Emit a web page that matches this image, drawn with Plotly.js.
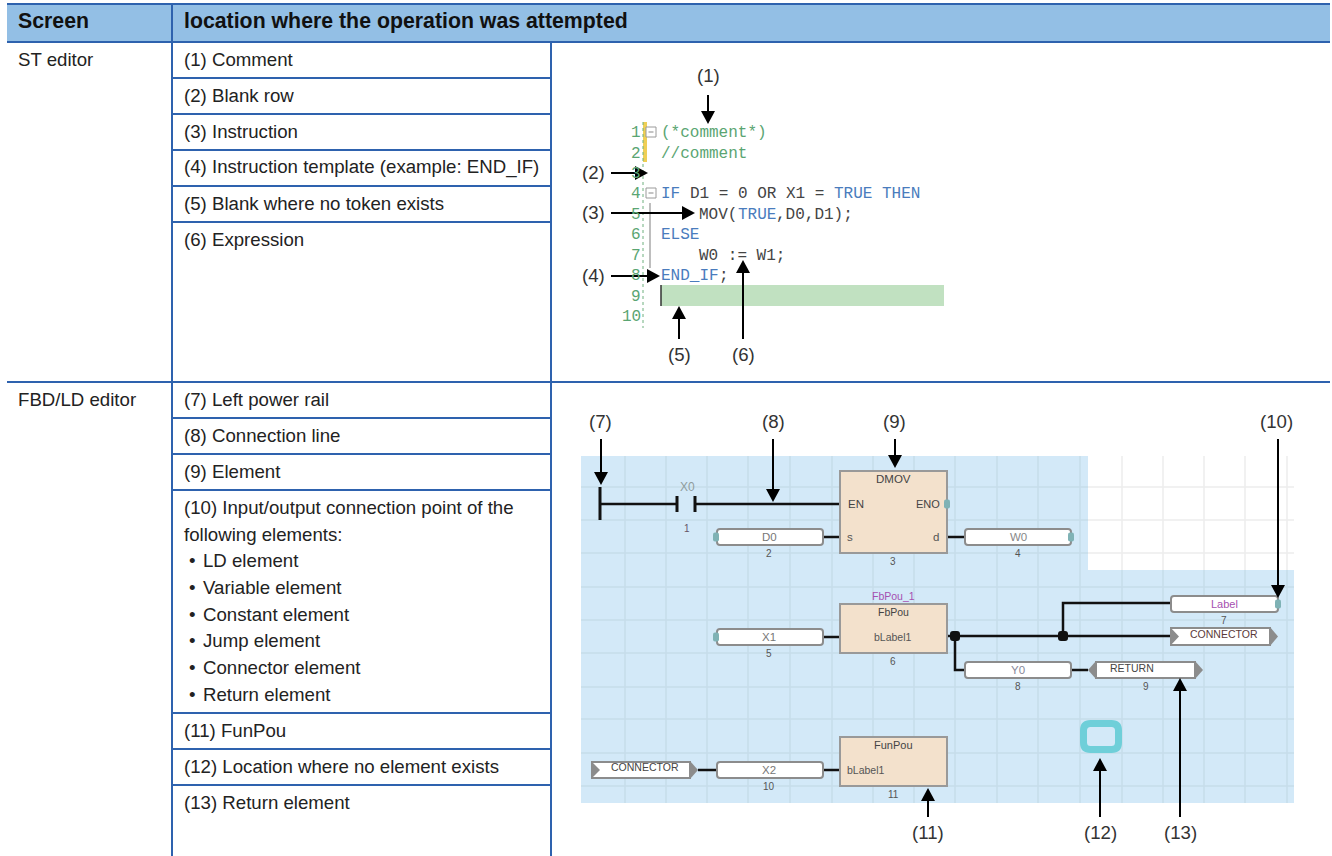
<!DOCTYPE html>
<html><head><meta charset="utf-8">
<script src="https://cdn.plot.ly/plotly-3.0.1.min.js"></script>
<style>html,body{margin:0;padding:0;background:#fff}#p{width:1332px;height:856px}</style>
</head><body><div id="p"></div>
<script>
// ---------- table content ----------
const headerLabels = [["Screen",18,22],["location where the operation was attempted",184,22]];
const screenLabels = [["ST editor",18,60],["FBD/LD editor",18,400]];
const rowLabels = [
 ["(1) Comment",60],["(2) Blank row",96],["(3) Instruction",132],
 ["(4) Instruction template (example: END_IF)",168],["(5) Blank where no token exists",204],["(6) Expression",240],
 ["(7) Left power rail",400],["(8) Connection line",436],["(9) Element",472],
 ["(10) Input/output connection point of the",508],["following elements:",535],
 ["(11) FunPou",731],["(12) Location where no element exists",767],["(13) Return element",803]];
const bulletLabels = [["LD element",561],["Variable element",588],["Constant element",615],["Jump element",641],["Connector element",668],["Return element",695]];
const tableHRules = [[7,1330,4],[7,1330,42],[172,551,78],[172,551,114],[172,551,150],[172,551,186],[172,551,222],
 [7,1330,382],[172,551,418],[172,551,454],[172,551,490],[172,551,713],[172,551,749],[172,551,785]];
const tableVRules = [[172,4,856],[551,42,856]];
// ---------- ST editor ----------
const lineNumbers = ["1","2","3","4","5","6","7","8","9","10"];
const lineRows = [132,153,173,193,214,234,255,275,296,316];
const codeTokens = [
 ["(*comment*)",0,0,"g"],["//comment",0,1,"g"],
 ["IF",0,3,"b"],["D1 = 0 OR X1 =",3,3,"k"],["TRUE THEN",18,3,"b"],
 ["MOV(",4,4,"k"],["TRUE",8,4,"b"],[",D0,D1);",12,4,"k"],
 ["ELSE",0,5,"b"],["W0 := W1;",4,6,"k"],["END_IF",0,7,"b"],[";",6,7,"k"]];
const codeColors = {g:"#5aa572",b:"#4a7cbd",k:"#444444"};
// ---------- callouts: label, label x, y, arrow from x,y to x,y ----------
const callouts = [
 ["(1)",708,76,708,95,708,124],["(2)",593,173,611,173,648,173],["(3)",593,213,611,213,695,213],
 ["(4)",593,276,611,276,660,276],["(5)",679,355,679,339,679,306],["(6)",743,355,743,339,743,260],
 ["(7)",600,422,601,439,601,485],["(8)",773,422,773,439,773,502],["(9)",894,422,895,439,895,468],
 ["(10)",1276,422,1278,439,1278,598],["(11)",928,833,928,817,928,788],["(12)",1100,833,1100,817,1100,758],
 ["(13)",1180,833,1180,817,1180,678]];
// ---------- FBD/LD diagram ----------
const gridX = [625,666,707,748,790,832,873,914,955,997,1038,1080,1122,1163,1204,1245,1287];
const gridY = [487,520,553,587,620,653,687,719,753,786];
const wires = [[[600,504],[677,504]],[[695,504],[840,504]],[[823,537],[840,537]],[[947,537],[965,537]],
 [[823,637],[840,637]],[[947,636],[1171,636]],[[1063,636],[1063,603],[1171,603]],[[955,636],[955,670],[965,670]],
 [[1071,670],[1088,670]],[[698,770],[717,770]],[[823,770],[840,770]]];
const rails = [[[600,487],[600,520]],[[677,496],[677,512]],[[695,496],[695,512]]];
const blocks = [[840,947,471,553],[840,947,604,653],[840,947,737,786]];
const pills = [[717,823,529,545],[965,1071,529,545],[717,823,629,645],[1171,1278,596,612],[965,1071,662,678],[717,823,762,778]];
const flags = [[1171,1278,628,645,"r"],[592,698,762,778,"r"],[1088,1203,662,678,"l"]];
const ioNodes = [[947,504],[716,537],[1071,537],[716,637],[1278,604]];
const junctions = [[955,636],[1063,636]];
const diagramText = [
 ["X0",687,487,12,"#8f9c9c"],["1",687,528,10,"#665566"],
 ["DMOV",893,479,11.5,"#444"],["EN",856,504,11.5,"#444"],["ENO",928,504,11,"#444"],["s",850,537,11.5,"#555"],["d",936,537,11.5,"#555"],["3",893,561,10,"#555"],
 ["D0",769,537,11.5,"#777"],["2",769,553,10,"#555"],["W0",1018,537,11.5,"#888"],["4",1018,553,10,"#555"],
 ["FbPou_1",893,596,10.5,"#a54fb0"],["FbPou",893,612,10.5,"#444"],["bLabel1",893,637,10.5,"#555"],["6",893,661,10,"#555"],
 ["X1",769,637,11.5,"#777"],["5",769,653,10,"#555"],
 ["Label",1224,604,11,"#a54fb0"],["7",1224,620,10,"#555"],["CONNECTOR",1224,634,10.5,"#5a3a3a"],
 ["Y0",1018,670,11.5,"#889"],["8",1018,686,10,"#555"],["RETURN",1132,668,10.5,"#444"],["9",1146,686,10,"#555"],
 ["FunPou",893,745,11,"#444"],["bLabel1",866,770,10.5,"#555"],["11",893,794,10,"#555"],
 ["X2",769,770,11.5,"#777"],["10",769,786,10,"#555"],["CONNECTOR",645,767,10.5,"#444"]];

// ---------- build ----------
const INK="#222", RULE="#2e62ae", SANS="Liberation Sans, Arial, sans-serif", MONO="Liberation Mono, monospace";
const shapes=[], notes=[], traces=[];
function polyTrace(lines,color,width,dash){
  const x=[],y=[];
  lines.forEach(l=>{l.forEach(p=>{x.push(p[0]);y.push(p[1]);});x.push(null);y.push(null);});
  traces.push({type:"scatter",mode:"lines",x,y,hoverinfo:"skip",showlegend:false,line:{color,width,dash:dash||"solid"}});
}
function rect(x0,x1,y0,y1,fill,lineColor,lw,layer){
  shapes.push({type:"rect",xref:"x",yref:"y",x0,x1,y0,y1,fillcolor:fill,layer:layer||"above",line:{color:lineColor||fill,width:lineColor?(lw||1):0}});
}
function path(d,fill,lineColor,lw,layer){
  shapes.push({type:"path",xref:"x",yref:"y",path:d,fillcolor:fill,layer:layer||"above",line:{color:lineColor||fill,width:lineColor?(lw||1):0}});
}
function rounded(x0,x1,y0,y1,r){
  return `M${x0+r},${y0} L${x1-r},${y0} Q${x1},${y0} ${x1},${y0+r} L${x1},${y1-r} Q${x1},${y1} ${x1-r},${y1} L${x0+r},${y1} Q${x0},${y1} ${x0},${y1-r} L${x0},${y0+r} Q${x0},${y0} ${x0+r},${y0} Z`;
}
function note(text,x,y,size,color,anchor,family,bold){
  notes.push({text:bold?`<b>${text}</b>`:text,x,y,xref:"x",yref:"y",showarrow:false,xanchor:anchor||"left",yanchor:"middle",
    borderpad:0,font:{size,color,family:family||SANS}});
}
const BODY=18.65;
// table
rect(7,1330,4,42,"#93bfe5",null,0,"below");
polyTrace(tableHRules.map(r=>[[r[0],r[2]],[r[1],r[2]]]).concat(tableVRules.map(r=>[[r[0],r[1]],[r[0],r[2]]])),RULE,2);
headerLabels.forEach(h=>note(h[0],h[1]-1,h[2]-1,21.3,"#111","left",SANS,true));
screenLabels.forEach(s=>note(s[0],s[1]-1,s[2]-1,BODY,INK));
rowLabels.forEach(r=>note(r[0],183,r[1]-1,BODY,INK));
bulletLabels.forEach(b=>{note("•",188,b[1]-1,BODY,INK);note(b[0],202,b[1]-1,BODY,INK);});
// ST editor
rect(661,944,285,306,"#c1e1c1",null,0,"below");
rect(643,647,122,162,"#efcf55",null,0,"below");
polyTrace([[[643,122],[643,328]]],"#6fb07f",1,"dot");
polyTrace([[[650,203],[650,268]]],"#a8a8a8",1.5);
polyTrace([[[661,285],[661,306]]],"#333",1.5);
[132,193].forEach(y=>{rect(646,656,y-5,y+5,"#fff","#9a9a9a",1);rect(648.5,653.5,y-0.5,y+0.5,"#888");});
lineNumbers.forEach((n,i)=>note(n,642,lineRows[i]+1,16,"#5aa572","right",MONO));
codeTokens.forEach(t=>note(t[0],660+t[1]*9.6,lineRows[t[2]]+1,16,codeColors[t[3]],"left",MONO));
// diagram background and grid
rect(581,1294,456,803,"#d3e9f8",null,0,"below");
rect(1088,1294,456,570,"#ffffff",null,0,"below");
const gridBlue=[],gridWhite=[];
gridX.forEach(x=>{
  gridBlue.push([[x,x>1088?570:456],[x,803]]);
  if(x>1088) gridWhite.push([[x,456],[x,570]]);
});
gridY.forEach(y=>{
  if(y<570){gridBlue.push([[581,y],[1088,y]]);gridWhite.push([[1088,y],[1294,y]]);}
  else gridBlue.push([[581,y],[1294,y]]);
});
polyTrace(gridBlue,"#c6dcea",1.5);
polyTrace(gridWhite,"#ececec",1.5);
polyTrace(wires,"#111",2.5);
polyTrace(rails,"#111",3);
blocks.forEach(b=>rect(b[0],b[1],b[2],b[3],"#f3e1cc","#999",2));
pills.forEach(p=>path(rounded(p[0],p[1],p[2],p[3],3),"#fff","#8c8c8c",2));
ioNodes.forEach(n=>path(rounded(n[0]-3,n[0]+3,n[1]-4.5,n[1]+4.5,2),"#7fb2b5"));
flags.forEach(f=>{
  const [x0,x1,y0,y1,dir]=f, m=(y0+y1)/2;
  if(dir==="r"){
    rect(x0,x1-8,y0,y1,"#fff","#8c8c8c",2);
    path(`M${x0-1},${y0-1} L${x0+8},${m} L${x0-1},${y1+1} Z`,"#8c8c8c");
    path(`M${x1-8},${y0-1} L${x1},${m} L${x1-8},${y1+1} Z`,"#8c8c8c");
  } else {
    rect(x0+8,x1-8,y0,y1,"#fff","#8c8c8c",2);
    path(`M${x0+8},${y0-1} L${x0},${m} L${x0+8},${y1+1} Z`,"#8c8c8c");
    path(`M${x1-8},${y0-1} L${x1},${m} L${x1-8},${y1+1} Z`,"#8c8c8c");
  }
});
junctions.forEach(j=>path(rounded(j[0]-5,j[0]+5,j[1]-5,j[1]+5,3),"#111"));
path(rounded(1083.5,1118.5,723.5,749.5,7),"rgba(0,0,0,0)","#6fcfd9",7);
diagramText.forEach(t=>note(t[0],t[1],t[2],t[3],t[4],"center"));
// callouts
const shafts=[];
callouts.forEach(c=>{
  const [lab,lx,ly,x0,y0,x1,y1]=c;
  note(lab,lx,ly-1,BODY,"#333","center");
  const dx=x1-x0,dy=y1-y0,L=Math.hypot(dx,dy),ux=dx/L,uy=dy/L,bx=x1-ux*13,by=y1-uy*13;
  shafts.push([[x0,y0],[bx,by]]);
  path(`M${x1},${y1} L${bx-uy*7},${by+ux*7} L${bx+uy*7},${by-ux*7} Z`,"#000");
});
polyTrace(shafts,"#000",2);

Plotly.newPlot("p",traces,{
  width:1332,height:856,margin:{l:0,r:0,t:0,b:0},showlegend:false,
  paper_bgcolor:"#fff",plot_bgcolor:"#fff",
  xaxis:{range:[0,1332],visible:false,fixedrange:true},
  yaxis:{range:[856,0],visible:false,fixedrange:true},
  shapes,annotations:notes
},{displayModeBar:false,staticPlot:true});
</script></body></html>
